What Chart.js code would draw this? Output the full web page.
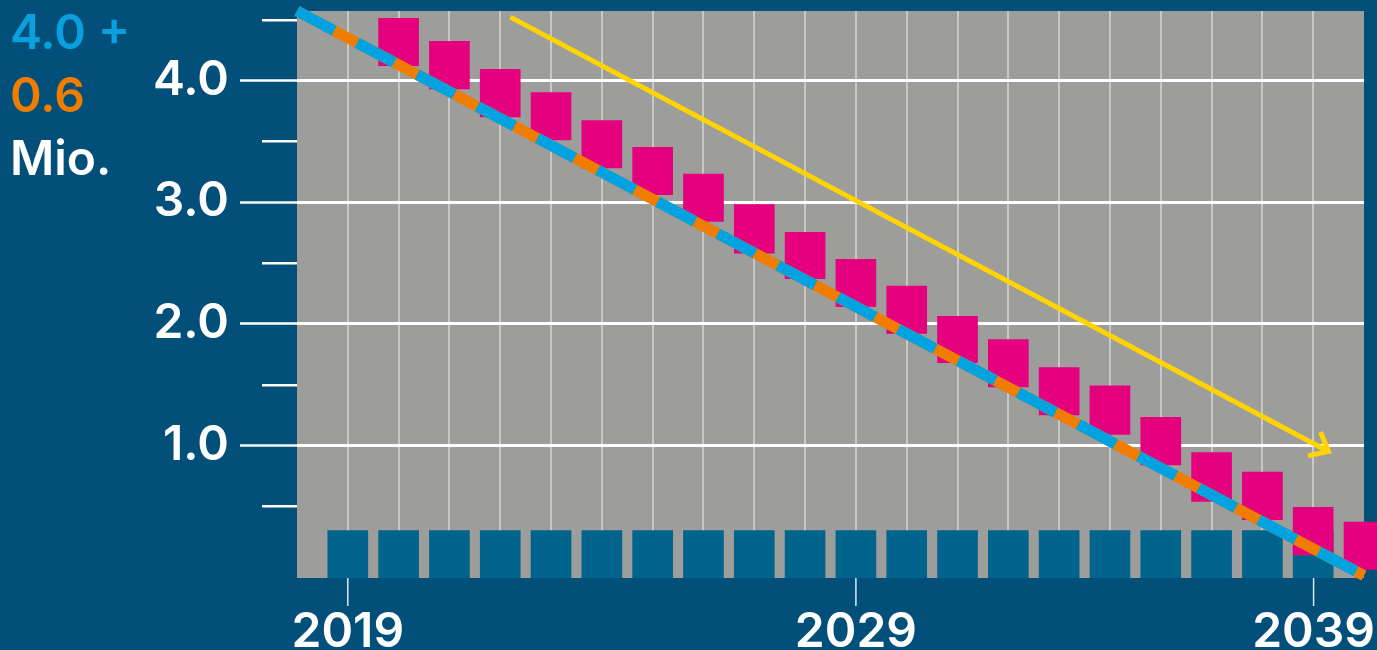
<!DOCTYPE html>
<html>
<head>
<meta charset="utf-8">
<script src="https://cdn.jsdelivr.net/npm/chart.js@4.4.1/dist/chart.umd.min.js"></script>
<style>
  html, body { margin:0; padding:0; background:#02507a; width:1377px; height:650px; overflow:hidden; }
  #wrap { position:relative; width:1377px; height:650px; }
  canvas { position:absolute; left:0; top:0; }
  .lg { position:absolute; left:10px; font-family:Inter,'DejaVu Sans',sans-serif; font-weight:600; font-size:48px; line-height:48px; white-space:nowrap; }
</style>
</head>
<body>
<div id="wrap">
  <canvas id="c" width="1377" height="650"></canvas>
  <div class="lg" style="top:8px;color:#0aa0df;">4.0 +</div>
  <div class="lg" style="top:71px;color:#f07d00;">0.6</div>
  <div class="lg" style="top:134px;color:#ffffff;">Mio.</div>
</div>
<script>
// ---- data ----
const pinkYears = [2020,2021,2022,2023,2024,2025,2026,2027,2028,2029,2030,2031,2032,2033,2034,2035,2036,2037,2038,2039];
const pinkHigh  = [4.51,4.32,4.09,3.90,3.67,3.45,3.23,2.98,2.75,2.53,2.31,2.06,1.87,1.64,1.49,1.23,0.94,0.78,0.49,0.37];
const pinkLow   = [4.12,3.93,3.70,3.51,3.28,3.06,2.84,2.58,2.37,2.14,1.92,1.68,1.48,1.25,1.09,0.84,0.54,0.39,0.10,-0.02];
const tealYears = [2019,2020,2021,2022,2023,2024,2025,2026,2027,2028,2029,2030,2031,2032,2033,2034,2035,2036,2037,2038];
const tealHigh  = [0.30,0.30,0.30,0.30,0.30,0.30,0.30,0.30,0.30,0.30,0.30,0.30,0.30,0.30,0.30,0.30,0.30,0.30,0.30,0.30];
const trendYears  = [2018, 2039];
const trendValues = [4.57, -0.07];
const arrowYears  = [2022.2, 2038.3];
const arrowValues = [4.52, 0.95];
const gridYears   = [2019,2020,2021,2022,2023,2024,2025,2026,2027,2028,2029,2030,2031,2032,2033,2034,2035,2036,2037,2038];
const yearLabels  = [2019, 2029, 2039];
const yTickValues = [0.5,1.0,1.5,2.0,2.5,3.0,3.5,4.0,4.5];
const Y_MIN = -0.09, Y_MAX = 4.57, X_MIN = 2018, X_MAX = 2039;

const FONT = "Inter,'DejaVu Sans',sans-serif";
const isInt = v => Math.abs(v - Math.round(v)) < 1e-6;

const pinkData = pinkYears.map((y,i)=>({x:y, y:[pinkLow[i], pinkHigh[i]]}));
const tealData = tealYears.map((y,i)=>({x:y, y:[Y_MIN, tealHigh[i]]}));
const trendData = trendYears.map((y,i)=>({x:y, y:trendValues[i]}));
const arrowData = arrowYears.map((y,i)=>({x:y, y:arrowValues[i]}));

const bgPlugin = {
  id:'bg',
  beforeDraw(chart){
    const {ctx, chartArea:a} = chart;
    ctx.save(); ctx.fillStyle = '#9d9d9c';
    ctx.fillRect(a.left, a.top, a.right-a.left, a.bottom-a.top);
    ctx.restore();
  }
};

const extrasPlugin = {
  id:'extras',
  afterDraw(chart){
    const {ctx, chartArea:a, scales} = chart;
    const ys = scales.y, xs = scales.x;
    ctx.save();
    // minor y ticks
    ctx.strokeStyle = '#ffffff'; ctx.lineWidth = 2.5;
    yTickValues.filter(v=>!isInt(v)).forEach(v=>{
      const py = Math.round(ys.getPixelForValue(v)) + 0.25;
      ctx.beginPath(); ctx.moveTo(a.left-35, py); ctx.lineTo(a.left, py); ctx.stroke();
    });
    // x ticks + labels
    ctx.font = '600 48px ' + FONT;
    ctx.fillStyle = '#ffffff'; ctx.textAlign = 'center'; ctx.textBaseline = 'alphabetic';
    yearLabels.forEach(yr=>{
      const txt = String(yr);
      const w = ctx.measureText(txt).width;
      let px = xs.getPixelForValue(yr);
      px = Math.min(px, chart.width - w/2 - 2);
      ctx.strokeStyle = '#dfe8ee'; ctx.lineWidth = 1.5;
      ctx.beginPath(); ctx.moveTo(px, a.bottom); ctx.lineTo(px, a.bottom+28); ctx.stroke();
      ctx.fillText(txt, px, 647);
    });
    ctx.restore();
  },
  afterDatasetsDraw(chart){
    const meta = chart.getDatasetMeta(4);
    const pts = meta.data;
    if (pts.length < 2) return;
    const p1 = pts[pts.length-2], p2 = pts[pts.length-1];
    const ang = Math.atan2(p2.y-p1.y, p2.x-p1.x);
    const ctx = chart.ctx;
    ctx.save();
    ctx.strokeStyle = '#ffd400'; ctx.lineWidth = 5; ctx.lineCap = 'butt'; ctx.lineJoin='miter';
    const L = 21, spread = 40*Math.PI/180;
    ctx.beginPath();
    ctx.moveTo(p2.x + L*Math.cos(ang+Math.PI-spread), p2.y + L*Math.sin(ang+Math.PI-spread));
    ctx.lineTo(p2.x, p2.y);
    ctx.lineTo(p2.x + L*Math.cos(ang+Math.PI+spread), p2.y + L*Math.sin(ang+Math.PI+spread));
    ctx.stroke();
    ctx.restore();
  }
};

new Chart(document.getElementById('c'), {
  type:'bar',
  data:{
    datasets:[
      { type:'bar', data:tealData, backgroundColor:'#00648c', barThickness:40, grouped:false, order:5, borderWidth:0 },
      { type:'bar', data:pinkData, backgroundColor:'#e5007d', barThickness:40, grouped:false, order:4, borderWidth:0, clip:false },
      { type:'line', data:trendData, borderColor:'#f07d00', borderWidth:11, pointRadius:0, borderCapStyle:'butt', tension:0, order:2, clip:false },
      { type:'line', data:trendData, borderColor:'#00a2e0', borderWidth:11, borderDash:[42,26], pointRadius:0, borderCapStyle:'butt', tension:0, order:1, clip:false },
      { type:'line', data:arrowData, borderColor:'#ffd400', borderWidth:5, pointRadius:0, borderCapStyle:'butt', tension:0, order:0, clip:false }
    ]
  },
  options:{
    responsive:false, devicePixelRatio:1, animation:false,
    layout:{ padding:{ top:11, right:13, left:0, bottom:0 } },
    plugins:{ legend:{display:false}, tooltip:{enabled:false} },
    scales:{
      x:{
        type:'linear', min:X_MIN, max:X_MAX, offset:false,
        afterBuildTicks: s => { s.ticks = gridYears.map(v=>({value:v})); },
        afterFit: s => { s.height = 72; s.paddingLeft = 0; s.paddingRight = 0; },
        border:{display:false},
        grid:{ color:'#c8c8c6', lineWidth:2, drawTicks:false, offset:false },
        ticks:{ display:false }
      },
      y:{
        type:'linear', min:Y_MIN, max:Y_MAX,
        afterBuildTicks: s => { s.ticks = yTickValues.map(v=>({value:v})); },
        afterFit: s => { s.width = 297; s.paddingTop = 0; s.paddingBottom = 0; },
        border:{display:false},
        grid:{
          color: c => isInt(c.tick.value) ? '#ffffff' : 'rgba(0,0,0,0)',
          tickColor: c => isInt(c.tick.value) ? '#ffffff' : 'rgba(0,0,0,0)',
          lineWidth:3, tickWidth:2.5, tickLength:57
        },
        ticks:{
          callback: v => isInt(v) ? Number(v).toFixed(1) : '',
          color:'#ffffff', padding:11,
          font:{ family:FONT, size:48, weight:'600' }
        }
      }
    }
  },
  plugins:[bgPlugin, extrasPlugin]
});
</script>
</body>
</html>
